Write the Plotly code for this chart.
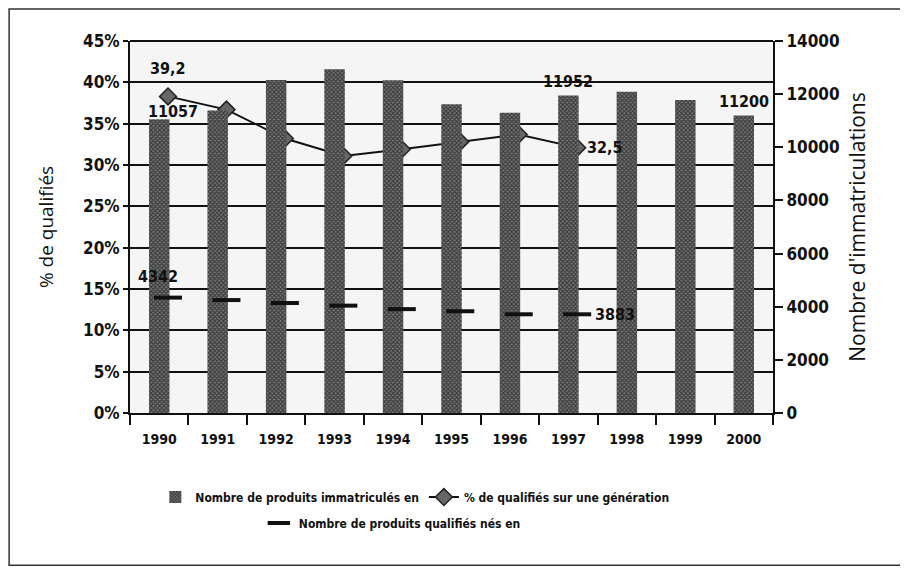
import plotly.graph_objects as go

years = list(range(1990, 2001))
year_labels = [str(y) for y in years]

# Nombre de produits immatriculés (bars, right axis)
immatricules = [11057, 11380, 12530, 12940, 12520, 11620, 11300, 11952, 12090, 11780, 11200]
# % de qualifiés sur une génération (line, left axis), 1990-1997
pct_qualifies = [38.3, 36.7, 33.2, 31.1, 31.9, 32.8, 33.7, 32.1]
# Nombre de produits qualifiés nés en (dashes, right axis), 1990-1997
qualifies_nes = [4342, 4250, 4140, 4040, 3910, 3830, 3715, 3715]

# data labels printed on the chart
bar_labels = {1990: "11057", 1997: "11952", 2000: "11200"}
pct_labels = {1990: "39,2", 1997: "32,5"}
nes_labels = {1990: "4342", 1997: "3883"}

BOLD = "DejaVu Sans Condensed, Liberation Sans Narrow, DejaVu Sans, sans-serif"
LIGHT = "Open Sans, DejaVu Sans, sans-serif"
shift = 0.15  # line markers sit a little right of the bar centre

line_years = [y + shift for y in years[: len(pct_qualifies)]]

fig = go.Figure()

fig.add_trace(go.Bar(
    x=years, y=immatricules, yaxis="y2", width=0.35,
    name="Nombre de produits immatriculés en",
    marker=dict(color="#444", line=dict(width=0),
                pattern=dict(shape="x", fgcolor="#000", bgcolor="#777",
                             size=3, solidity=0.6)),
    legend="legend",
))
fig.add_trace(go.Scatter(
    x=line_years, y=pct_qualifies, mode="lines+markers",
    name="% de qualifiés sur une génération",
    line=dict(color="#111", width=2),
    marker=dict(symbol="diamond", size=13, color="#666",
                line=dict(color="#222", width=1.5)),
    legend="legend",
))
fig.add_trace(go.Scatter(
    x=line_years, y=qualifies_nes, yaxis="y2", mode="markers",
    name="Nombre de produits qualifiés nés en",
    marker=dict(symbol="line-ew", size=20, line=dict(color="#111", width=4)),
    legend="legend2",
))

annotations = []
lab_font = dict(family=BOLD, size=16, color="#111", weight="bold")
for y, t in bar_labels.items():
    i = years.index(y)
    annotations.append(dict(x=y, y=immatricules[i], yref="y2", text=t,
                            showarrow=False, yanchor="bottom",
                            xshift=14 if y == 1990 else 0,
                            yshift=-4 if y == 1990 else 2, font=lab_font))
for y, t in pct_labels.items():
    i = years.index(y)
    if y == 1990:
        annotations.append(dict(x=line_years[i], y=pct_qualifies[i], text=t,
                                showarrow=False, yanchor="bottom", yshift=16, font=lab_font))
    else:
        annotations.append(dict(x=line_years[i], y=pct_qualifies[i], text=t,
                                showarrow=False, xanchor="left", xshift=8, font=lab_font))
for y, t in nes_labels.items():
    i = years.index(y)
    if y == 1990:
        annotations.append(dict(x=line_years[i], y=qualifies_nes[i], yref="y2",
                                text=t, showarrow=False, yanchor="bottom",
                                xshift=-10, yshift=10, font=lab_font))
    else:
        annotations.append(dict(x=line_years[i], y=qualifies_nes[i], yref="y2",
                                text=t, showarrow=False, xanchor="left",
                                xshift=16, font=lab_font))

fig.update_layout(
    width=900, height=560,
    margin=dict(l=122, r=135, t=33, b=155),
    paper_bgcolor="white", plot_bgcolor="#f5f5f5",
    font=dict(family=BOLD, color="#111"),
    showlegend=True,
    xaxis=dict(
        range=[1989.5, 2000.5], tickmode="array", tickvals=years,
        ticktext=year_labels,
        tickfont=dict(family=BOLD, size=14, weight="bold"), ticks="", ticklabelstandoff=12,
        showgrid=False, zeroline=False, showline=True, linecolor="#111", linewidth=2,
        minor=dict(ticks="outside", ticklen=10, tickwidth=2, tickcolor="#111",
                   tick0=1989.5, dtick=1, showgrid=False),
    ),
    yaxis=dict(
        range=[0, 45], dtick=5, ticksuffix="%",
        tickfont=dict(family=BOLD, size=17, weight="bold"), ticks="outside", ticklen=5,
        tickcolor="#111", tickwidth=1.5,
        showgrid=True, gridcolor="#111", gridwidth=1.5, zeroline=False,
        showline=True, linecolor="#111", linewidth=2,
        title=dict(text="% de qualifiés", font=dict(family=LIGHT, size=19), standoff=24),
    ),
    yaxis2=dict(
        overlaying="y", side="right", range=[0, 14000], dtick=2000, tickformat="d",
        tickfont=dict(family=BOLD, size=17, weight="bold"), ticks="outside", ticklen=8,
        tickcolor="#111", tickwidth=1.5,
        showgrid=False, zeroline=False, showline=True, linecolor="#111", linewidth=2,
        title=dict(text="Nombre d'immatriculations", font=dict(family=LIGHT, size=21),
                   standoff=12),
    ),
    legend=dict(orientation="h", x=0.443, xanchor="center", y=-0.226, yanchor="middle",
                font=dict(family=BOLD, size=12, weight="bold"), bgcolor="rgba(0,0,0,0)",
                itemwidth=30),
    legend2=dict(orientation="h", x=0.408, xanchor="center", y=-0.296, yanchor="middle",
                 font=dict(family=BOLD, size=12, weight="bold"), bgcolor="rgba(0,0,0,0)",
                 itemwidth=30),
    annotations=annotations,
    shapes=[dict(type="line", xref="paper", yref="paper", x0=0, x1=1, y0=1, y1=1,
                 line=dict(color="#111", width=2)),
            dict(type="rect", xref="paper", yref="paper",
                 x0=-0.188, x1=1.203, y0=-0.409, y1=1.086,
                 line=dict(color="#333", width=1.5))],
)

fig.write_html("out.html")
